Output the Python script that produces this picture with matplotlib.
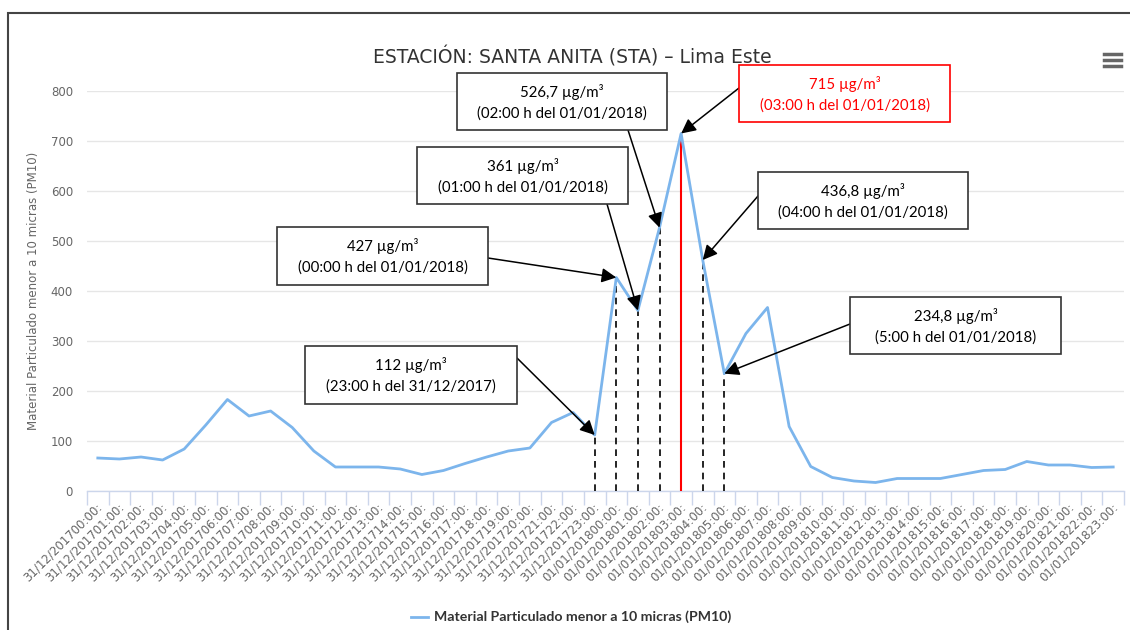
import matplotlib
matplotlib.use("Agg")
import matplotlib.pyplot as plt
from matplotlib.patches import Rectangle
from matplotlib.lines import Line2D
import matplotlib.transforms as mtransforms

# ---------------- data ----------------
days = ["31/12/2017"] * 24 + ["01/01/2018"] * 24
hours = [f"{h:02d}:00:" for h in range(24)] * 2
tick_labels = [d + h for d, h in zip(days, hours)]

pm10 = [66, 64, 68, 62, 84, 132, 183, 150, 160, 127,
        80, 48, 48, 48, 44, 33, 41, 55, 68, 80,
        86, 137, 157, 112, 427, 361, 526.7, 715, 462, 234.8,
        315, 367, 129, 49, 27, 20, 17, 25, 25, 25,
        33, 41, 43, 59, 52, 52, 47, 48]

title = "ESTACIÓN: SANTA ANITA (STA) – Lima Este"
ylabel = "Material Particulado menor a 10 micras (PM10)"
series_name = "Material Particulado menor a 10 micras (PM10)"

# annotated points: index, value text, time text, highlight
ann_idx = [23, 24, 25, 26, 27, 28, 29]
ann_val = ["112", "427", "361", "526,7", "715", "436,8", "234,8"]
ann_time = ["(23:00 h del 31/12/2017)", "(00:00 h del 01/01/2018)",
            "(01:00 h del 01/01/2018)", "(02:00 h del 01/01/2018)",
            "(03:00 h del 01/01/2018)", "(04:00 h del 01/01/2018)",
            "(5:00 h del 01/01/2018)"]
ann_red = [False, False, False, False, True, False, False]
# box positions (figure pixels, top-left origin): x0, y0, x1, y1
ann_box = [(305, 346, 517, 404), (277, 227, 488, 285), (417, 147, 628, 204),
           (457, 73, 667, 130), (739, 65, 950, 122), (758, 172, 968, 229),
           (850, 297, 1061, 354)]
# arrow start points (figure pixels, top-left origin)
ann_start = [(517, 358), (488, 258), (607, 204), (628, 130), (739, 88),
             (758, 196), (850, 324)]

W, H = 1130, 630
fig = plt.figure(figsize=(W / 100, H / 100), dpi=100)
fig.patch.set_facecolor("white")


def fx(x):
    return x / W


def fy(y):
    return 1 - y / H


ax = fig.add_axes([fx(87), fy(491), (1124 - 87) / W, 400 / H])
ax.set_facecolor("white")
x = list(range(len(pm10)))

ax.set_xlim(-0.5, len(pm10) - 0.5)
ax.set_ylim(0, 800)
ax.set_yticks(range(0, 801, 100))
ax.grid(axis="y", color="#e6e6e6", lw=1)
ax.set_axisbelow(True)
for s in ["top", "right", "left"]:
    ax.spines[s].set_visible(False)
ax.spines["bottom"].set_color("#ccd6eb")
ax.spines["bottom"].set_linewidth(1)

ax.tick_params(axis="y", length=0, pad=10, labelsize=8.5, labelcolor="#666666")
ax.set_xticks(x)
ax.set_xticklabels(tick_labels, rotation=45, ha="right", va="top",
                   rotation_mode="anchor", fontsize=8.5, color="#666666")
ax.tick_params(axis="x", which="major", length=0, pad=4)
ax.set_xticks([i - 0.5 for i in range(len(pm10) + 1)], minor=True)
ax.tick_params(axis="x", which="minor", length=10, color="#ccd6eb", width=1)
offset = mtransforms.ScaledTranslation(-2 / 100, -4 / 100, fig.dpi_scale_trans)
for lab in ax.get_xticklabels():
    lab.set_transform(lab.get_transform() + offset)

ax.set_ylabel(ylabel, fontsize=8.5, color="#666666", labelpad=8)

# vertical guide lines
for i in ann_idx:
    if i == 27:
        ax.vlines(i, 0, pm10[i], color="red", lw=1.5, zorder=3)
    else:
        ax.vlines(i, 0, pm10[i], color="black", lw=1.2,
                  linestyles=(0, (4, 3)), zorder=3)

ax.plot(x, pm10, color="#7cb5ec", lw=2, zorder=4)

# title
fig.text(fx(572), fy(57), title, ha="center", va="center",
         fontsize=13.5, color="#333333")

# annotations
for i, v, t, red, box, st in zip(ann_idx, ann_val, ann_time, ann_red,
                                 ann_box, ann_start):
    col = "red" if red else "black"
    x0, y0, x1, y1 = box
    rect = Rectangle((fx(x0), fy(y1)), fx(x1) - fx(x0), fy(y0) - fy(y1),
                     transform=fig.transFigure, facecolor="white",
                     edgecolor=("red" if red else "#333333"), lw=1.2,
                     zorder=10)
    fig.add_artist(rect)
    cx = (x0 + x1) / 2
    fig.text(fx(cx), fy(y0 + 19), f"{v} µg/m³", ha="center", va="center",
             fontsize=10.8, color=col, family="Lato", zorder=11)
    fig.text(fx(cx), fy(y0 + 41), t, ha="center", va="center",
             fontsize=10.8, color=col, family="Lato", zorder=11)
    ax.annotate("", xy=(i, pm10[i]), xycoords="data",
                xytext=(st[0], H - st[1]), textcoords="figure pixels",
                arrowprops=dict(arrowstyle="-|>", color="black", lw=1.1,
                                mutation_scale=22, shrinkA=0, shrinkB=0),
                zorder=9, annotation_clip=False)

# legend
fig.add_artist(Line2D([fx(411), fx(428)], [fy(617), fy(617)],
                      color="#7cb5ec", lw=2, transform=fig.transFigure))
fig.text(fx(434), fy(617), series_name, ha="left", va="center",
         fontsize=10.2, fontweight="bold", color="#333333", family="Lato")

# hamburger menu
for yy in (54, 60, 66):
    fig.add_artist(Line2D([fx(1104), fx(1121)], [fy(yy), fy(yy)],
                          color="#666666", lw=2.5, transform=fig.transFigure))

# outer frame
fig.add_artist(Rectangle((fx(8), fy(640)), fx(1140) - fx(8), fy(13) - fy(640),
                         transform=fig.transFigure, fill=False,
                         edgecolor="#444444", lw=1.5))

fig.savefig("out.png", dpi=100)
